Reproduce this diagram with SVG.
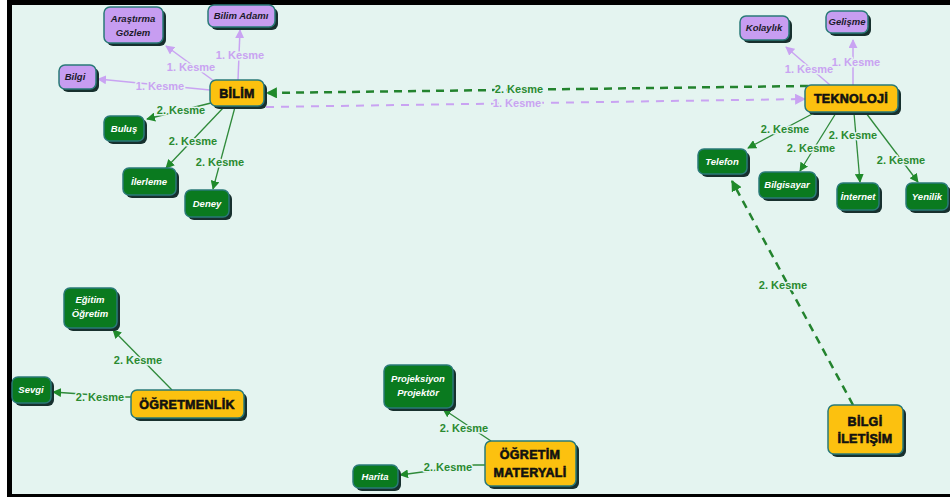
<svg xmlns="http://www.w3.org/2000/svg" width="950" height="497" viewBox="0 0 950 497">
<defs>
<style>
.sh{fill:#17302e}
.py{fill:#fcc10f;stroke:#2a7a78;stroke-width:1.5}
.pp{fill:#c79df1;stroke:#2a7a78;stroke-width:1.5}
.pg{fill:#0a7a1f;stroke:#2a7a78;stroke-width:1.5}
.ty{font-family:"Liberation Sans",Arial,sans-serif;font-weight:bold;font-size:12.5px;fill:#111;stroke:#111;stroke-width:0.6;text-anchor:middle;letter-spacing:0.3px}
.tp{font-family:"Liberation Sans",Arial,sans-serif;font-weight:bold;font-style:italic;font-size:9.5px;fill:#1a1a2a;text-anchor:middle}
.tg{font-family:"Liberation Sans",Arial,sans-serif;font-weight:bold;font-style:italic;font-size:9.5px;fill:#ffffff;text-anchor:middle}
.eg{stroke:#2f8a3a;stroke-width:1.3;fill:none}
.ep{stroke:#c9a3f2;stroke-width:1.5;fill:none}
.dg{stroke:#23832e;stroke-width:2.5;fill:none;stroke-dasharray:8 6}
.dp{stroke:#c9a3f2;stroke-width:2;fill:none;stroke-dasharray:8 7}
.lg{font-family:"Liberation Sans",Arial,sans-serif;font-weight:bold;font-size:11px;fill:#2a8a30;text-anchor:middle;stroke:#e4f4f0;stroke-width:3;paint-order:stroke;stroke-linejoin:round}
.lp{font-family:"Liberation Sans",Arial,sans-serif;font-weight:bold;font-size:11px;fill:#c9a3f2;text-anchor:middle;stroke:#e4f4f0;stroke-width:3;paint-order:stroke;stroke-linejoin:round}
</style>
<marker id="ag" viewBox="0 0 10 10" refX="9" refY="5" markerWidth="9" markerHeight="9" markerUnits="userSpaceOnUse" orient="auto"><path d="M0,0 L10,5 L0,10 z" fill="#1f8a2a"/></marker>
<marker id="ap" viewBox="0 0 10 10" refX="9" refY="5" markerWidth="9" markerHeight="9" markerUnits="userSpaceOnUse" orient="auto"><path d="M0,0 L10,5 L0,10 z" fill="#c9a3f2"/></marker>
<marker id="agd" viewBox="0 0 10 10" refX="9" refY="5" markerWidth="11" markerHeight="11" markerUnits="userSpaceOnUse" orient="auto"><path d="M0,0 L10,5 L0,10 z" fill="#1f8a2a"/></marker>
<marker id="apd" viewBox="0 0 10 10" refX="9" refY="5" markerWidth="11" markerHeight="11" markerUnits="userSpaceOnUse" orient="auto"><path d="M0,0 L10,5 L0,10 z" fill="#c9a3f2"/></marker>
</defs>
<rect x="0" y="0" width="950" height="497" fill="#ffffff"/>
<rect x="7" y="0" width="943" height="497" fill="#e4f4f0"/>
<rect x="7" y="0" width="943" height="5" fill="#000"/>
<rect x="7" y="0" width="5" height="497" fill="#000"/>
<rect x="7" y="494" width="943" height="3" fill="#000"/>

<g id="connectors">
<line class="ep" x1="214" y1="81" x2="166" y2="46" marker-end="url(#ap)"/>
<line class="ep" x1="238" y1="80" x2="240" y2="30" marker-end="url(#ap)"/>
<line class="ep" x1="210" y1="90" x2="98" y2="79" marker-end="url(#ap)"/>
<line class="eg" x1="211" y1="103" x2="147" y2="119" marker-end="url(#ag)"/>
<line class="eg" x1="224" y1="107" x2="166" y2="168" marker-end="url(#ag)"/>
<line class="eg" x1="235" y1="107" x2="213" y2="189" marker-end="url(#ag)"/>
<line class="dg" x1="808" y1="86" x2="267" y2="93" marker-end="url(#agd)"/>
<line class="dp" x1="266" y1="107" x2="805" y2="99" marker-end="url(#apd)"/>
<line class="ep" x1="830" y1="85" x2="786" y2="47" marker-end="url(#ap)"/>
<line class="ep" x1="853" y1="85" x2="853" y2="40" marker-end="url(#ap)"/>
<line class="eg" x1="814" y1="113" x2="748" y2="148" marker-end="url(#ag)"/>
<line class="eg" x1="836" y1="113" x2="800" y2="171" marker-end="url(#ag)"/>
<line class="eg" x1="854" y1="113" x2="860" y2="182" marker-end="url(#ag)"/>
<line class="eg" x1="866" y1="113" x2="918" y2="182" marker-end="url(#ag)"/>
<line class="dg" x1="853" y1="405" x2="732" y2="181" marker-end="url(#agd)"/>
<line class="eg" x1="172" y1="390" x2="113" y2="330" marker-end="url(#ag)"/>
<polyline class="eg" points="131,397 124,397 53,392" marker-end="url(#ag)"/>
<line class="eg" x1="491" y1="441" x2="443" y2="409" marker-end="url(#ag)"/>
<polyline class="eg" points="485,465 474,465 400,475" marker-end="url(#ag)"/>
</g>

<g id="labels">
<text class="lp" x="191" y="71">1. Kesme</text>
<text class="lp" x="240" y="59">1. Kesme</text>
<text class="lp" x="160" y="90">1. Kesme</text>
<text class="lg" x="181" y="114">2. Kesme</text>
<text class="lg" x="193" y="145">2. Kesme</text>
<text class="lg" x="220" y="166">2. Kesme</text>
<text class="lg" x="519" y="93">2. Kesme</text>
<text class="lp" x="517" y="107">1. Kesme</text>
<text class="lp" x="809" y="73">1. Kesme</text>
<text class="lp" x="856" y="66">1. Kesme</text>
<text class="lg" x="785" y="133">2. Kesme</text>
<text class="lg" x="811" y="152">2. Kesme</text>
<text class="lg" x="853" y="139">2. Kesme</text>
<text class="lg" x="901" y="164">2. Kesme</text>
<text class="lg" x="783" y="289">2. Kesme</text>
<text class="lg" x="138" y="364">2. Kesme</text>
<text class="lg" x="100" y="401">2. Kesme</text>
<text class="lg" x="464" y="432">2. Kesme</text>
<text class="lg" x="448" y="471">2. Kesme</text>
</g>

<g id="n-arastirma"><rect class="sh" x="107" y="10" width="59" height="36" rx="6"/><rect class="pp" x="104" y="7" width="59" height="36" rx="6"/><text class="tp" x="133" y="22">Araştırma</text><text class="tp" x="133" y="36">Gözlem</text></g>
<g id="n-bilimadami"><rect class="sh" x="211" y="8" width="67" height="22" rx="6"/><rect class="pp" x="208" y="5" width="67" height="22" rx="6"/><text class="tp" x="241" y="19">Bilim Adamı</text></g>
<g id="n-bilgi"><rect class="sh" x="62" y="68" width="37" height="24" rx="6"/><rect class="pp" x="59" y="65" width="37" height="24" rx="6"/><text class="tp" x="75" y="80">Bilgi</text></g>
<g id="n-kolaylik"><rect class="sh" x="743" y="19" width="49" height="24" rx="6"/><rect class="pp" x="740" y="16" width="49" height="24" rx="6"/><text class="tp" x="764" y="31">Kolaylık</text></g>
<g id="n-gelisme"><rect class="sh" x="829" y="14" width="42" height="22" rx="6"/><rect class="pp" x="826" y="11" width="42" height="22" rx="6"/><text class="tp" x="847" y="25">Gelişme</text></g>

<g id="n-bilim"><rect class="sh" x="213" y="83" width="54" height="26" rx="6"/><rect class="py" x="210" y="80" width="54" height="26" rx="6"/><text class="ty" x="237" y="98">BİLİM</text></g>
<g id="n-teknoloji"><rect class="sh" x="808" y="88" width="93" height="27" rx="6"/><rect class="py" x="805" y="85" width="93" height="27" rx="6"/><text class="ty" x="851" y="103">TEKNOLOJİ</text></g>
<g id="n-ogretmenlik"><rect class="sh" x="134" y="393" width="113" height="28" rx="6"/><rect class="py" x="131" y="390" width="113" height="28" rx="6"/><text class="ty" x="187" y="409">ÖĞRETMENLİK</text></g>
<g id="n-materyal"><rect class="sh" x="488" y="444" width="91" height="45" rx="6"/><rect class="py" x="485" y="441" width="91" height="45" rx="6"/><text class="ty" x="530" y="459">ÖĞRETİM</text><text class="ty" x="530" y="477">MATERYALİ</text></g>
<g id="n-iletisim"><rect class="sh" x="831" y="408" width="75" height="49" rx="6"/><rect class="py" x="828" y="405" width="75" height="49" rx="6"/><text class="ty" x="865" y="426">BİLGİ</text><text class="ty" x="865" y="443">İLETİŞİM</text></g>

<g id="n-bulus"><rect class="sh" x="107" y="119" width="40" height="25" rx="6"/><rect class="pg" x="104" y="116" width="40" height="25" rx="6"/><text class="tg" x="124" y="132">Buluş</text></g>
<g id="n-ilerleme"><rect class="sh" x="126" y="171" width="53" height="27" rx="6"/><rect class="pg" x="123" y="168" width="53" height="27" rx="6"/><text class="tg" x="149" y="185">İlerleme</text></g>
<g id="n-deney"><rect class="sh" x="188" y="193" width="44" height="27" rx="6"/><rect class="pg" x="185" y="190" width="44" height="27" rx="6"/><text class="tg" x="207" y="207">Deney</text></g>
<g id="n-telefon"><rect class="sh" x="701" y="152" width="49" height="25" rx="6"/><rect class="pg" x="698" y="149" width="49" height="25" rx="6"/><text class="tg" x="722" y="165">Telefon</text></g>
<g id="n-bilgisayar"><rect class="sh" x="762" y="175" width="57" height="26" rx="6"/><rect class="pg" x="759" y="172" width="57" height="26" rx="6"/><text class="tg" x="787" y="188">Bilgisayar</text></g>
<g id="n-internet"><rect class="sh" x="840" y="186" width="42" height="27" rx="6"/><rect class="pg" x="837" y="183" width="42" height="27" rx="6"/><text class="tg" x="858" y="200">İnternet</text></g>
<g id="n-yenilik"><rect class="sh" x="909" y="186" width="42" height="27" rx="6"/><rect class="pg" x="906" y="183" width="42" height="27" rx="6"/><text class="tg" x="927" y="200">Yenilik</text></g>
<g id="n-egitim"><rect class="sh" x="67" y="291" width="53" height="40" rx="6"/><rect class="pg" x="64" y="288" width="53" height="40" rx="6"/><text class="tg" x="90" y="303">Eğitim</text><text class="tg" x="90" y="317">Öğretim</text></g>
<g id="n-sevgi"><rect class="sh" x="15" y="380" width="39" height="26" rx="6"/><rect class="pg" x="12" y="377" width="39" height="26" rx="6"/><text class="tg" x="31" y="393">Sevgi</text></g>
<g id="n-projeksiyon"><rect class="sh" x="387" y="368" width="69" height="43" rx="6"/><rect class="pg" x="384" y="365" width="69" height="43" rx="6"/><text class="tg" x="418" y="382">Projeksiyon</text><text class="tg" x="418" y="396">Projektör</text></g>
<g id="n-harita"><rect class="sh" x="356" y="468" width="45" height="23" rx="6"/><rect class="pg" x="353" y="465" width="45" height="23" rx="6"/><text class="tg" x="375" y="480">Harita</text></g>
</svg>
